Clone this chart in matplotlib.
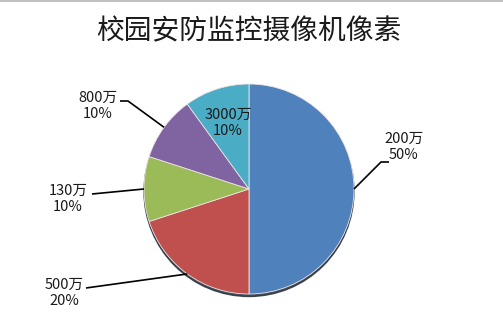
import matplotlib
matplotlib.use('Agg')
import matplotlib.pyplot as plt
from matplotlib.patches import Circle
from matplotlib.lines import Line2D
import numpy as np

plt.rcParams['font.family'] = ['Noto Sans CJK SC', 'DejaVu Sans']

title = '校园安防监控摄像机像素'
labels = ['200万', '500万', '130万', '800万', '3000万']
values = [50, 20, 10, 10, 10]
colors = ['#4F81BD', '#C0504D', '#9BBB59', '#8064A2', '#4BACC6']
# label text centres in pixel coords (x, y from top)
label_pos = [(404, 147), (64, 293), (68, 199), (98, 106), (228, 123)]
# leader lines: text-side start point and optional elbow (pixels from top)
leader_start = [(389, 162), (86, 288), (92, 194), (120, 101), None]
leader_elbow = [(381, 162), None, None, (128, 101), None]

W, H = 503, 331
cx, cy, r = 249, H - 189, 105

fig = plt.figure(figsize=(W / 100, H / 100), dpi=100)
ax = fig.add_axes([0, 0, 1, 1])

# dark rim under the pie
ax.add_patch(Circle((cx, cy - 2.5), r, color='#26303c', alpha=0.85, zorder=1))

wedges, _ = ax.pie(values, colors=colors, startangle=90, counterclock=False,
                   center=(cx, cy), radius=r, frame=True,
                   wedgeprops=dict(edgecolor='#f0e4e4', linewidth=0.6, zorder=2))
ax.set_xlim(0, W)
ax.set_ylim(0, H)
ax.set_aspect('equal')
ax.axis('off')

for w, lab, v, lp, st, el in zip(wedges, labels, values, label_pos,
                                 leader_start, leader_elbow):
    ax.text(lp[0], H - lp[1], '%s\n%d%%' % (lab, v), ha='center', va='center',
            fontsize=10.5, color='#1a1a1a', linespacing=1.2, zorder=5)
    if st is None:
        continue
    ang = np.deg2rad((w.theta1 + w.theta2) / 2)
    xs, ys = [st[0]], [H - st[1]]
    if el is not None:
        xs.append(el[0])
        ys.append(H - el[1])
    xs.append(cx + r * np.cos(ang))
    ys.append(cy + r * np.sin(ang))
    ax.plot(xs, ys, color='black', lw=1.2, zorder=4, solid_capstyle='butt')

ax.text(W / 2 - 3, H - 31, title, ha='center', va='center', fontsize=20,
        color='#1a1a1a', fontweight='light')

fig.add_artist(Line2D([0, 1], [0.997, 0.997], transform=fig.transFigure,
                      color='#c0c0c0', lw=1.5))

fig.savefig('out.png', dpi=100)
